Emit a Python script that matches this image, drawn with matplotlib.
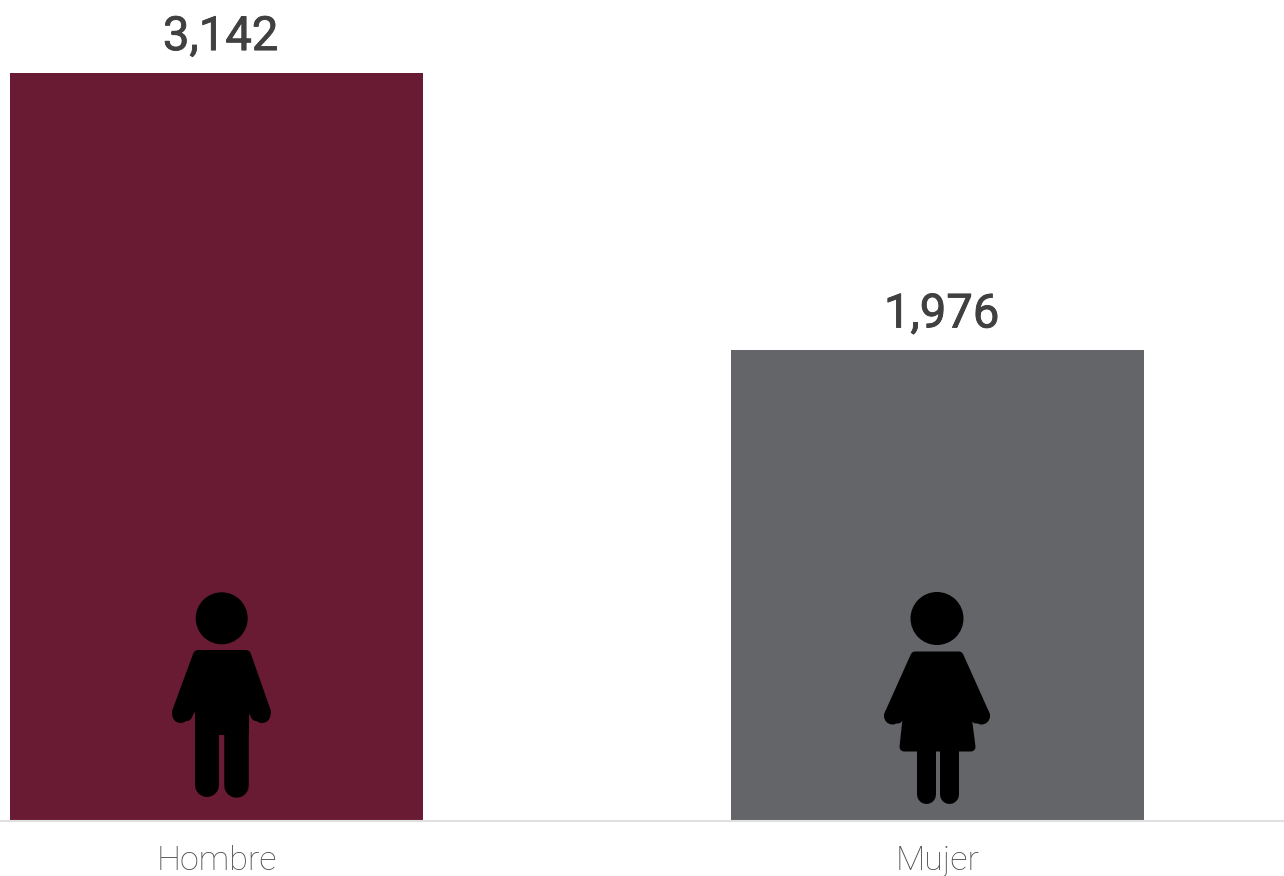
import numpy as np
import matplotlib
matplotlib.use("Agg")
import matplotlib.pyplot as plt
import matplotlib.patheffects as pe
from matplotlib.patches import Circle, Polygon

# ---------------------------------------------------------------- data
categories = ["Hombre", "Mujer"]
values = [3142, 1976]
value_labels = ["3,142", "1,976"]
bar_colors = ["#691B33", "#636569"]

# ---------------------------------------------------------------- layout (pixels)
W, H = 1284, 876
BASE_PX = 820.5
PX_PER_UNIT = (BASE_PX - 73) / values[0]
CENTERS_PX = [216.5, 937.5]
STEP_PX = CENTERS_PX[1] - CENTERS_PX[0]
BAR_W = 413 / STEP_PX

plt.rcParams["font.family"] = ["Roboto", "DejaVu Sans"]

fig = plt.figure(figsize=(W / 100, H / 100), dpi=100, facecolor="white")
ax = fig.add_axes([0, 1 - BASE_PX / H, 1, BASE_PX / H])
ax.set_xlim(-CENTERS_PX[0] / STEP_PX, (W - CENTERS_PX[0]) / STEP_PX)
ax.set_ylim(0, BASE_PX / PX_PER_UNIT)

xs = np.arange(len(categories))
ax.bar(xs, values, width=BAR_W, color=bar_colors, zorder=2)

for x, v, lab in zip(xs, values, value_labels):
    t = ax.annotate(lab, (x, v), xytext=(3, 16.5), textcoords="offset points",
                    ha="center", va="baseline", fontsize=34, fontweight="normal",
                    color="#404040")
    t.set_path_effects([pe.withStroke(linewidth=0.6, foreground="#404040")])

for s in ["top", "left", "right"]:
    ax.spines[s].set_visible(False)
ax.spines["bottom"].set_color("#E0E0E0")
ax.spines["bottom"].set_linewidth(1.5)
ax.set_yticks([])
ax.set_xticks(xs, categories)
ax.tick_params(axis="x", length=0, pad=17.5, labelsize=24.5, labelcolor="#4D4D4D")
for t in ax.get_xticklabels():
    t.set_fontweight("light")

# ---------------------------------------------------------------- person icons, pixel overlay
ov = fig.add_axes([0, 0, 1, 1], facecolor="none")
ov.set_xlim(0, W)
ov.set_ylim(H, 0)
ov.axis("off")


def blob(pts, r=0):
    ov.add_patch(Polygon(pts, closed=True, fc="black", ec="black" if r else "none",
                         lw=r * 2 * 0.72, joinstyle="round", zorder=5))


def leg(x0, x1, y0, y1):
    # round-capped stroke, top cap stays hidden inside the body
    r = (x1 - x0) / 2
    ov.plot([x0 + r, x0 + r], [y0 + r, y1 - r], color="black", lw=2 * r * 0.72,
            solid_capstyle="round", zorder=5)


# man
ov.add_patch(Circle((221.7, 618.3), 26, fc="black", ec="none", zorder=5))
blob([(198, 655), (246, 655), (266, 712), (256, 716), (243, 690), (243, 728),
      (200, 728), (200, 690), (187, 716), (177, 712)], r=5)
ov.add_patch(Circle((180.7, 714.5), 8.5, fc="black", ec="none", zorder=5))
ov.add_patch(Circle((262, 714.5), 8.5, fc="black", ec="none", zorder=5))
blob([(195, 690), (248.5, 690), (248.5, 735), (195, 735)])
leg(195, 219, 722, 797)
leg(224, 248.5, 722, 797)

# woman
ov.add_patch(Circle((937, 618.5), 26.5, fc="black", ec="none", zorder=5))
blob([(915, 656), (959, 656), (985, 714), (976, 719), (965, 700), (971, 747),
      (904, 747), (909, 700), (898, 719), (889, 714)], r=4.5)
ov.add_patch(Circle((892.5, 716), 8.5, fc="black", ec="none", zorder=5))
ov.add_patch(Circle((981.5, 716), 8.5, fc="black", ec="none", zorder=5))
leg(916, 935, 735, 803)
leg(939, 958, 735, 803)

fig.savefig("out.png", dpi=100, facecolor="white")
